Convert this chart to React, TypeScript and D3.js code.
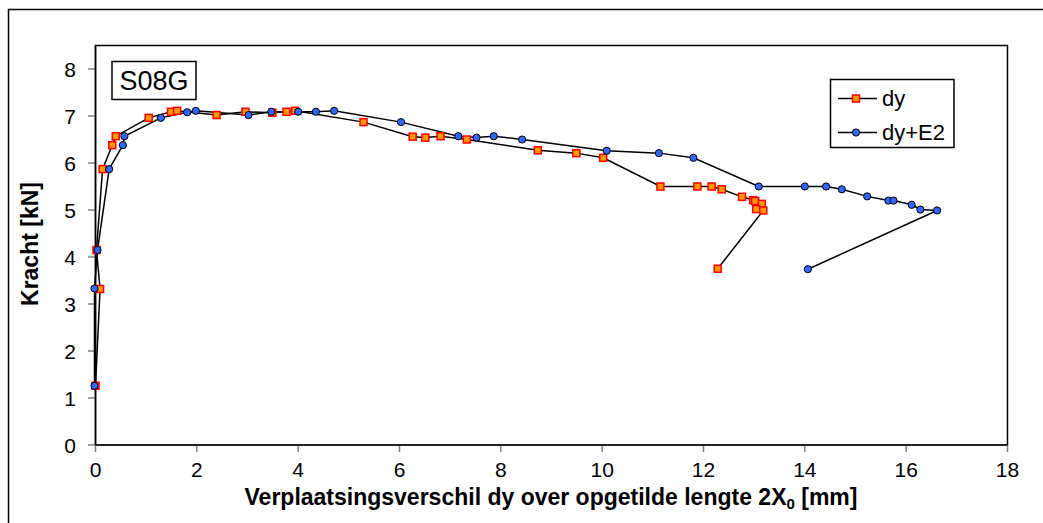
import React from "react";
import * as d3 from "d3";

const dyX = [0, 0.09, 0.02, 0.14, 0.33, 0.40, 1.05, 1.49, 1.61, 2.39, 2.96, 3.49, 3.77, 3.94, 5.29, 6.26, 6.51, 6.81, 7.33, 8.73, 9.49, 10.02, 11.15, 11.88, 12.16, 12.36, 12.76, 12.98, 13.02, 13.15, 13.04, 13.18, 12.28];
const dyF = [1.26, 3.32, 4.15, 5.87, 6.38, 6.57, 6.96, 7.09, 7.11, 7.02, 7.09, 7.07, 7.09, 7.11, 6.87, 6.56, 6.54, 6.57, 6.50, 6.27, 6.21, 6.11, 5.50, 5.50, 5.50, 5.44, 5.28, 5.21, 5.19, 5.13, 5.02, 4.99, 3.75];
const e2X = [-0.02, -0.02, 0.04, 0.27, 0.54, 0.57, 1.29, 1.81, 1.98, 3.02, 3.47, 4.0, 4.35, 4.71, 6.03, 7.16, 7.52, 7.86, 8.42, 10.09, 11.12, 11.80, 13.09, 14.0, 14.42, 14.73, 15.23, 15.65, 15.75, 16.11, 16.28, 16.61, 14.06];
const e2F = [1.26, 3.33, 4.15, 5.87, 6.38, 6.57, 6.96, 7.08, 7.11, 7.02, 7.09, 7.09, 7.09, 7.11, 6.87, 6.57, 6.54, 6.57, 6.50, 6.26, 6.21, 6.11, 5.50, 5.50, 5.50, 5.44, 5.29, 5.20, 5.20, 5.11, 5.01, 4.99, 3.74];

const xTicks = [0, 2, 4, 6, 8, 10, 12, 14, 16, 18];
const yTicks = [0, 1, 2, 3, 4, 5, 6, 7, 8];
const seriesNames = ["dy", "dy+E2"];
const chartLabel = "S08G";

const FONT = "Arial, 'Liberation Sans', sans-serif";

export default function App() {
  const x = d3.scaleLinear().domain([0, 18]).range([95.5, 1007.5]);
  const y = d3.scaleLinear().domain([0, 8.5]).range([445, 45.5]);
  const line = d3.line<[number, number]>().x((d) => x(d[0])).y((d) => y(d[1]));
  const dyPts: [number, number][] = dyX.map((v, i) => [v, dyF[i]]);
  const e2Pts: [number, number][] = e2X.map((v, i) => [v, e2F[i]]);
  const sq = 7;
  const r = 3.6;

  return (
    <svg width={1043} height={523} style={{ position: "absolute", left: 0, top: 0, background: "#fff" }} fontFamily={FONT}>
      <rect x={8.5} y={9.5} width={1100} height={600} fill="#fff" stroke="#000" strokeWidth={1.5} />
      <rect x={x(0)} y={y(8.5)} width={x(18) - x(0)} height={y(0) - y(8.5)} fill="#fff" stroke="#000" strokeWidth={1.5} />
      {yTicks.map((t) => (
        <g key={"y" + t}>
          <line x1={x(0) - 7.5} x2={x(0)} y1={y(t)} y2={y(t)} stroke="#808080" strokeWidth={1.5} />
          <text x={76} y={y(t) + 7.5} textAnchor="end" fontSize={21} fill="#000">{t}</text>
        </g>
      ))}
      {xTicks.map((t) => (
        <g key={"x" + t}>
          <line x1={x(t)} x2={x(t)} y1={y(0)} y2={y(0) + 7} stroke="#808080" strokeWidth={1.5} />
          <text x={x(t)} y={477} textAnchor="middle" fontSize={21} fill="#000">{t}</text>
        </g>
      ))}
      <line x1={x(0)} x2={x(18)} y1={y(0)} y2={y(0)} stroke="#222" strokeWidth={2} />
      <line x1={x(0)} x2={x(0)} y1={y(0)} y2={y(8.5)} stroke="#000" strokeWidth={1.5} />
      <path d={line(dyPts) || ""} fill="none" stroke="#000" strokeWidth={1.5} />
      <path d={line(e2Pts) || ""} fill="none" stroke="#000" strokeWidth={1.5} />
      {dyPts.map((p, i) => (
        <rect key={"s" + i} x={x(p[0]) - sq / 2} y={y(p[1]) - sq / 2} width={sq} height={sq} fill="#FF9900" stroke="#FF0000" strokeWidth={1.5} />
      ))}
      {e2Pts.map((p, i) => (
        <circle key={"c" + i} cx={x(p[0])} cy={y(p[1])} r={r} fill="#3366FF" stroke="#000" strokeWidth={1} />
      ))}
      <rect x={112} y={61.5} width={84} height={38} fill="#fff" stroke="#000" strokeWidth={1.5} />
      <text x={154} y={90} textAnchor="middle" fontSize={27} fill="#000">{chartLabel}</text>
      <rect x={830.5} y={79.5} width={123.5} height={68} fill="#fff" stroke="#000" strokeWidth={1.5} />
      <line x1={838} x2={877} y1={98.5} y2={98.5} stroke="#000" strokeWidth={1.5} />
      <rect x={856 - sq / 2} y={98.5 - sq / 2} width={sq} height={sq} fill="#FF9900" stroke="#FF0000" strokeWidth={1.5} />
      <text x={882} y={106} fontSize={22}>{seriesNames[0]}</text>
      <line x1={838} x2={877} y1={132.5} y2={132.5} stroke="#000" strokeWidth={1.5} />
      <circle cx={856} cy={132.5} r={r} fill="#3366FF" stroke="#000" strokeWidth={1} />
      <text x={882} y={140} fontSize={22}>{seriesNames[1]}</text>
      <text x={551} y={505} textAnchor="middle" fontSize={23} fontWeight="bold">
        Verplaatsingsverschil dy over opgetilde lengte 2X<tspan fontSize={15} dy={4}>0</tspan><tspan dy={-4}> [mm]</tspan>
      </text>
      <text transform="translate(38,244) rotate(-90)" textAnchor="middle" fontSize={23} fontWeight="bold">Kracht [kN]</text>
    </svg>
  );
}
